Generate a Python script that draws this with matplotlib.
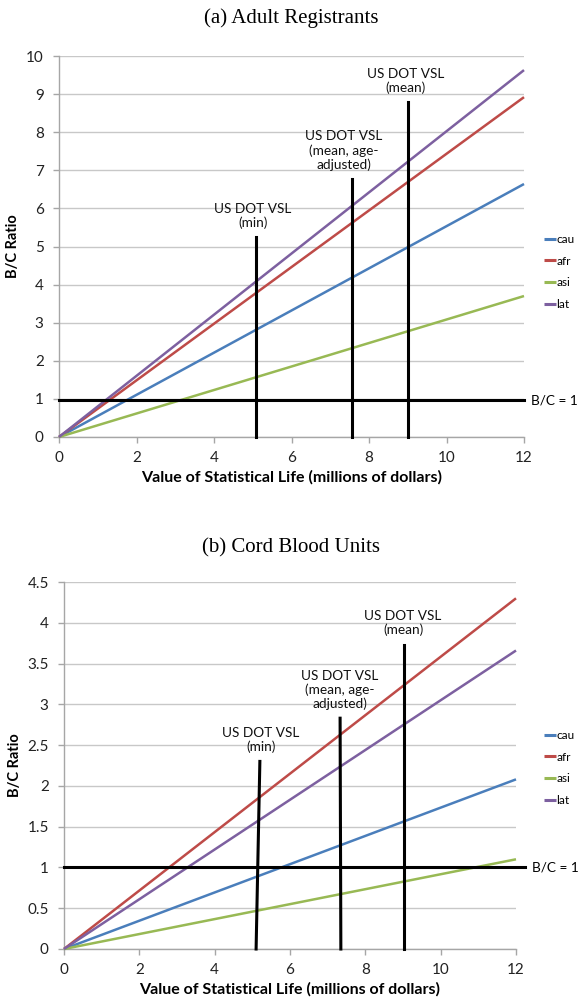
import matplotlib
matplotlib.use("Agg")
import matplotlib.pyplot as plt

# ---------------- data ----------------
x_ends = [0, 12]
groups = ["cau", "afr", "asi", "lat"]
colors = ["#4A7EBB", "#BE4B48", "#98B954", "#7D60A0"]

adult_end = [6.64, 8.92, 3.70, 9.63]      # B/C ratio at VSL = 12
cord_end = [2.08, 4.30, 1.10, 3.66]

vsl_labels = ["US DOT VSL\n(min)", "US DOT VSL\n(mean, age-\nadjusted)", "US DOT VSL\n(mean)"]
adult_vsl_x = [5.08, 7.55, 9.0]
adult_vsl_top = [5.25, 6.77, 8.79]
cord_vsl_x_bottom = [5.10, 7.35, 9.02]
cord_vsl_x_top = [5.20, 7.33, 9.02]
cord_vsl_top = [2.30, 2.83, 3.73]

adult_yticks = [0, 1, 2, 3, 4, 5, 6, 7, 8, 9, 10]
cord_yticks = [0, 0.5, 1, 1.5, 2, 2.5, 3, 3.5, 4, 4.5]
cord_ytick_labels = ["0", "0.5", "1", "1.5", "2", "2.5", "3", "3.5", "4", "4.5"]
xticks = [0, 2, 4, 6, 8, 10, 12]

adult_bc_y = 0.97
cord_bc_y = 1.0
adult_bc_xend = 12.0
cord_bc_xend = 12.25

# ---------------- style ----------------
FONT = "Lato"
W, H = 582, 1001
fig = plt.figure(figsize=(W / 100, H / 100), dpi=100)


def px_axes(l, r, b, t):
    return fig.add_axes([l / W, 1 - b / H, (r - l) / W, (b - t) / H])


def style(ax, yticks, ylabels, ymax):
    ax.set_xlim(0, 12)
    ax.set_ylim(0, ymax)
    ax.set_xticks(xticks)
    ax.set_xticklabels([str(v) for v in xticks], fontfamily=FONT, fontsize=11)
    ax.set_yticks(yticks)
    ax.set_yticklabels(ylabels, fontfamily=FONT, fontsize=11)
    for s in ["top", "right"]:
        ax.spines[s].set_visible(False)
    for s in ["left", "bottom"]:
        ax.spines[s].set_color("#A6A6A6")
        ax.spines[s].set_linewidth(1.0)
    ax.tick_params(axis="both", direction="out", length=4, width=1.0,
                   color="#A6A6A6", labelcolor="#222222")
    ax.tick_params(axis="y", pad=7)
    ax.tick_params(axis="x", pad=6)
    ax.grid(axis="y", color="#C8C8C8", linewidth=1.0)
    ax.set_axisbelow(True)
    ax.set_xlabel("Value of Statistical Life (millions of dollars)",
                  fontfamily=FONT, fontweight="bold", fontsize=11.5, labelpad=4)
    ax.set_ylabel("B/C Ratio", fontfamily=FONT, fontweight="bold", fontsize=10.5,
                  labelpad=4)


def draw(ax, ends, vx_b, vx_t, vtop, label_x, label_gap, bc_y, bc_xend, leg_anchor):
    for g, c, e in zip(groups, colors, ends):
        ax.plot(x_ends, [0, e], color=c, lw=1.8, label=g, solid_capstyle="butt",
                clip_on=False, zorder=3)
    for xb, xt, top, lab, lx in zip(vx_b, vx_t, vtop, vsl_labels, label_x):
        ax.plot([xb, xt], [0, top], color="black", lw=2.2, zorder=4, clip_on=False)
        ax.annotate(lab, xy=(lx, top), xytext=(0, label_gap), textcoords="offset points",
                    ha="center", va="bottom", fontfamily=FONT, fontsize=9.8,
                    linespacing=1.15, color="#111111")
    ax.plot([0, bc_xend], [bc_y, bc_y], color="black", lw=2.2, zorder=4, clip_on=False)
    ax.annotate("B/C = 1", xy=(bc_xend, bc_y), xytext=(5, 0), textcoords="offset points",
                ha="left", va="center", fontfamily=FONT, fontsize=9.8,
                annotation_clip=False)
    leg = ax.legend(loc="upper left", bbox_to_anchor=leg_anchor,
                    bbox_transform=fig.transFigure, frameon=False,
                    prop={"family": FONT, "size": 8.5}, handlelength=1.0,
                    handletextpad=0.05, labelspacing=0.9, borderpad=0,
                    borderaxespad=0)
    for ln in leg.get_lines():
        ln.set_linewidth(2.2)


# ---------- (a) Adult Registrants ----------
ax1 = px_axes(59, 524, 437, 56)
style(ax1, adult_yticks, [str(v) for v in adult_yticks], 10)
draw(ax1, adult_end, adult_vsl_x, adult_vsl_x, adult_vsl_top,
     [5.0, 7.35, 8.95], 6, adult_bc_y, adult_bc_xend, (544 / W, 1 - 234 / H))
fig.text(0.5, 1 - 18 / H, "(a) Adult Registrants", ha="center", va="center",
         fontfamily="Liberation Serif", fontsize=15)

# ---------- (b) Cord Blood Units ----------
ax2 = px_axes(64, 516, 949, 582)
style(ax2, cord_yticks, cord_ytick_labels, 4.5)
draw(ax2, cord_end, cord_vsl_x_bottom, cord_vsl_x_top, cord_vsl_top,
     [5.23, 7.33, 9.0], 6, cord_bc_y, cord_bc_xend, (544 / W, 1 - 730 / H))
fig.text(0.5, 1 - 548 / H, "(b) Cord Blood Units", ha="center", va="center",
         fontfamily="Liberation Serif", fontsize=15)

fig.savefig("out.png", dpi=100)
